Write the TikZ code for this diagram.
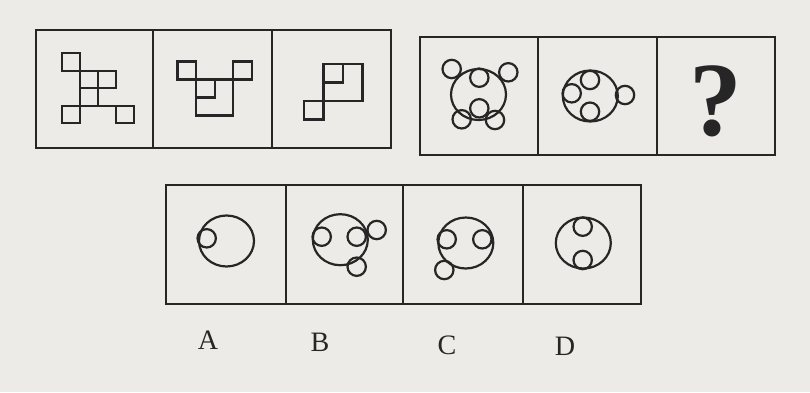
\documentclass[tikz,border=0pt]{standalone}
\usepackage{fontspec}
\setmainfont{Liberation Serif}
\usetikzlibrary{positioning}
\definecolor{pzInk}{HTML}{262626}
\definecolor{pzPaper}{HTML}{ECEBE7}
\tikzset{
  frame/.style={draw=pzInk, line width=1.3pt},
  sq/.style={draw=pzInk, line width=1.25pt},
  ring/.style={draw=pzInk, line width=1.25pt},
  bigring/.style={ring, x radius=27.5, y radius=25.5},
  lbl/.style={font=\fontsize{16}{16}\selectfont, text=pzInk},
}

\begin{document}
\begin{tikzpicture}[x=0.02cm,y=-0.02cm]
    \fill[pzPaper] (0,0) rectangle (810,392);
    \useasboundingbox (0,0) rectangle (810,392);
    % frames of the three strips
    \draw[frame] (36,30) rectangle (391,148);
    \foreach \x in {153,272} \draw[frame] (\x,30) -- (\x,148);
    \draw[frame] (420,37) rectangle (775,155);
    \foreach \x in {538,657} \draw[frame] (\x,37) -- (\x,155);
    \draw[frame] (166,185) rectangle (641,304);
    \foreach \x in {286,403,523} \draw[frame] (\x,185) -- (\x,304);
    % square figures
    \begin{scope}[shift={(62,53)},x=0.36cm,y=-0.352cm]
      \foreach \gx/\gy in {0/0,2/1,1/2,0/3,3/3}
        \draw[sq] (\gx,\gy) rectangle +(1,1);
      \draw[sq] (2,1) -- (1,1) -- (1,3) -- (3,3);
    \end{scope}
    \begin{scope}[shift={(177.5,61.5)},x=0.372cm,y=-0.36cm]
      \foreach \gx/\gy in {0/0,3/0,1/1}
        \draw[sq] (\gx,\gy) rectangle +(1,1);
      \draw[sq] (1,1) rectangle (3,3);
    \end{scope}
    \begin{scope}[shift={(304,64)},x=0.39cm,y=-0.37cm]
      \foreach \gx/\gy in {1/0,0/2}
        \draw[sq] (\gx,\gy) rectangle +(1,1);
      \draw[sq] (1,0) rectangle (3,2);
    \end{scope}
    % circle figures
    \foreach \cx/\cy in {478.5/94.5,590.3/96,226.5/241,340.3/239.7,465.8/243,583.3/243}
      \draw[bigring] (\cx,\cy) ellipse [];
    \foreach \cx/\cy in {451.7/69,508.3/72.3,461.7/119.3,495/120,479.3/77.7,479.3/108.3,
                         571.7/93.3,590/80,590/111.7,625/95,
                         206.7/238.3,
                         321.7/236.7,356.7/236.7,376.7/230,356.7/266.7,
                         446.7/239.3,482.3/239.3,444.3/270,
                         582.7/226.7,582.7/260}
      \draw[ring] (\cx,\cy) circle [radius=9.2];
    % question mark and answer letters
    \node[text=pzInk,font=\bfseries\fontsize{60}{62}\selectfont] (qmark) at (716,101) {?};
    \node[lbl] (labA) at (208,340) {A};
    \node[lbl] (labB) at (320,342) {B};
    \node[lbl] (labC) at (447,345) {C};
    \node[lbl] (labD) at (565,346) {D};
\end{tikzpicture}
\end{document}
